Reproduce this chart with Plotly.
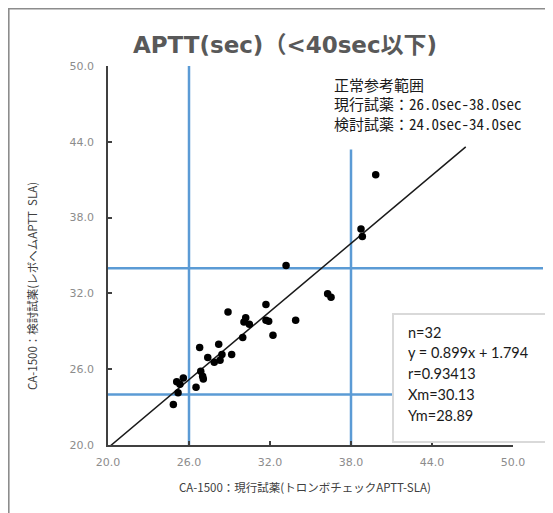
import plotly.graph_objects as go

# ---- data ----
current_reagent = [39.83, 38.74, 38.84, 33.19, 36.27, 36.52, 31.70, 28.89, 30.20, 30.07,
                   30.47, 31.70, 33.90, 32.22, 29.98, 26.79, 28.20, 27.39, 29.16, 28.44,
                   27.87, 28.30, 26.87, 27.01, 27.06, 25.58, 25.09, 25.33, 26.52, 25.19,
                   24.84, 31.90]
test_reagent = [41.39, 37.10, 36.50, 34.21, 31.97, 31.70, 31.13, 30.52, 30.08, 29.73,
                29.55, 29.87, 29.87, 28.68, 28.50, 27.71, 27.97, 26.92, 27.16, 27.16,
                26.55, 26.71, 25.84, 25.45, 25.23, 25.31, 25.00, 24.81, 24.58, 24.13,
                23.21, 29.80]
slope = 0.899
intercept = 1.794
fit_x = [20.0, 46.5]
ref_current = [26.0, 38.0]   # current reagent normal range (x)
ref_test = [24.0, 34.0]      # test reagent normal range (y)
tick_vals = [20, 26, 32, 38, 44, 50]
stats_lines = ["n=32", "y = 0.899x + 1.794", "r=0.93413", "Xm=30.13", "Ym=28.89"]
range_lines = ["正常参考範囲", "現行試薬：26.0sec-38.0sec", "検討試薬：24.0sec-34.0sec"]

# page body has an 8px margin; the figure fills the visible window
OFF = 8
W, H = 553 - OFF, 513 - OFF
L, T = 108 - OFF, 66 - OFF
R = W - (513 - OFF)
B = H - (445 - OFF)
PW, PH = W - L - R, H - T - B

def px_x(p):
    return (p - OFF - L) / PW

def px_y(p):
    return (H - B - (p - OFF)) / PH

fig = go.Figure()

fit_y = [slope * v + intercept for v in fit_x]
fig.add_trace(go.Scatter(x=fit_x, y=fit_y, mode="lines",
                         line=dict(color="#1a1a1a", width=1.5), hoverinfo="skip"))
fig.add_trace(go.Scatter(x=current_reagent, y=test_reagent, mode="markers",
                         marker=dict(color="black", size=7.5), cliponaxis=False))

blue = "#5B9BD5"
fig.add_shape(type="line", xref="x", yref="y", x0=ref_current[0], x1=ref_current[0],
              y0=20, y1=50, line=dict(color=blue, width=2.5), layer="below")
fig.add_shape(type="line", xref="x", yref="y", x0=ref_current[1], x1=ref_current[1],
              y0=20, y1=43.4, line=dict(color=blue, width=2.5), layer="below")
fig.add_shape(type="line", xref="paper", yref="y", x0=0, x1=px_x(543),
              y0=ref_test[1], y1=ref_test[1], line=dict(color=blue, width=2.5), layer="below")
fig.add_shape(type="line", xref="paper", yref="y", x0=0, x1=px_x(560),
              y0=ref_test[0], y1=ref_test[0], line=dict(color=blue, width=2.5), layer="below")

# stats box
fig.add_shape(type="rect", xref="paper", yref="paper", x0=px_x(393), x1=px_x(600),
              y0=px_y(442), y1=px_y(314), line=dict(color="#d9d9d9", width=2),
              fillcolor="white", layer="above")
for i, s in enumerate(stats_lines):
    fig.add_annotation(xref="paper", yref="paper", x=px_x(406), y=px_y(332 + i * 20.8),
                       xanchor="left", yanchor="middle", text=s, showarrow=False,
                       font=dict(family="Lato, Open Sans, sans-serif", size=14.5, color="#1a1a1a"))

for i, s in enumerate(range_lines):
    fig.add_annotation(xref="paper", yref="paper", x=px_x(332), y=px_y(84 + i * 19.5),
                       xanchor="left", yanchor="middle", text=s, showarrow=False,
                       font=dict(family="Noto Sans Mono CJK JP, Noto Sans CJK JP", size=15,
                                 color="#1a1a1a"))

# outer border
fig.add_shape(type="rect", xref="paper", yref="paper", x0=px_x(8.6), x1=px_x(620),
              y0=px_y(560), y1=px_y(8.6), line=dict(color="#8c8c8c", width=2), layer="below")

# axis titles
fig.add_annotation(xref="paper", yref="paper", x=px_x(305), y=px_y(487),
                   text="CA-1500：現行試薬(トロンボチェックAPTT-SLA)", showarrow=False,
                   xanchor="center", yanchor="middle",
                   font=dict(family="Noto Sans CJK JP", size=11.5, color="#404040"))
fig.add_annotation(xref="paper", yref="paper", x=px_x(32), y=px_y(286),
                   text="CA-1500：検討試薬(レボヘムAPTT  SLA)", showarrow=False, textangle=-90,
                   xanchor="center", yanchor="middle",
                   font=dict(family="Noto Sans CJK JP", size=11.5, color="#404040"))

axis_common = dict(range=[20, 50], tickvals=tick_vals, tickformat=".1f",
                   showline=True, linecolor="#404040", linewidth=1.5,
                   ticks="inside", ticklen=4, tickcolor="#404040", tickwidth=1.5,
                   showgrid=False, zeroline=False, automargin=False,
                   tickfont=dict(family="DejaVu Sans", size=11, color="#8c8c8c"))
fig.update_xaxes(**axis_common, ticklabelstandoff=6)
fig.update_yaxes(**axis_common, ticklabelstandoff=10)

fig.update_layout(
    width=W, height=H,
    margin=dict(l=L, r=R, t=T, b=B, autoexpand=False),
    paper_bgcolor="white", plot_bgcolor="white",
    showlegend=False,
    title=dict(text="<b>APTT(sec)（<40sec以下)</b>", xref="container", yref="container",
               x=(285 - OFF) / W, y=1 - (45 - OFF) / H, xanchor="center", yanchor="middle",
               font=dict(family="DejaVu Sans, Noto Sans CJK JP", size=23, color="#595959")),
)

fig.write_html("out.html")
